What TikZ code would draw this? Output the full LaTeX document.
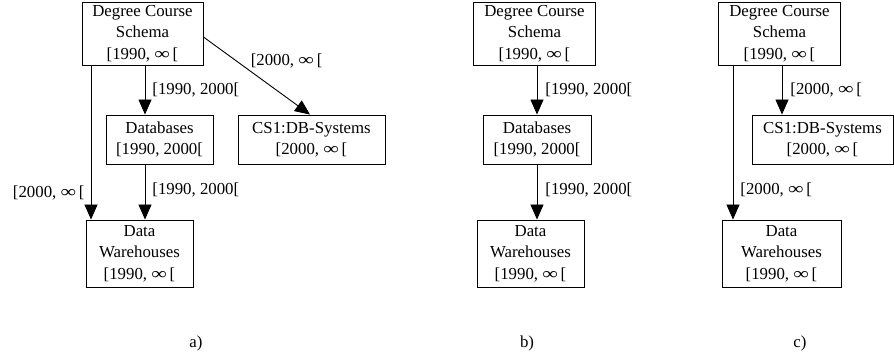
\documentclass[tikz,border=0pt]{standalone}
\usepackage{fontspec}
\usepackage{graphicx}
\setmainfont{Liberation Serif}
\usetikzlibrary{arrows.meta}
\newcommand{\infsym}{\scalebox{1.3}[1]{∞}}
\tikzset{
	box/.style = {draw, line width=0.9pt, align=center, inner sep=0pt, font=\fontsize{16.8}{21.5}\selectfont},
	lbl/.style = {inner sep=0pt, font=\fontsize{16.8}{20}\selectfont},
	arr/.style = {line width=0.9pt, -{Triangle[length=15pt, width=13pt]}}
}
\begin{document}
\begin{tikzpicture}[x=1pt, y=-1pt]
			\useasboundingbox (0,0) rectangle (894,358);
			\node[box, minimum width=121, minimum height=63] (dcsA) at (142.5,33.5) {Degree Course\\Schema\\{}[1990, \infsym\,[};
			\node[box, minimum width=107, minimum height=49] (dbA) at (159.5,139.5) {Databases\\{}[1990, 2000[};
			\node[box, minimum width=147, minimum height=49] (csA) at (311.5,139.5) {CS1:DB-Systems\\{}[2000, \infsym\,[};
			\node[box, minimum width=107, minimum height=67] (dwA) at (139.5,253.5) {Data\\Warehouses\\{}[1990, \infsym\,[};
			\draw[arr] ([xshift=2.5]dcsA.south) -- ([xshift=2.5]dcsA.south |- dbA.north) node[lbl, pos=0.5, right, xshift=7] (labA1) {[1990, 2000[};
			\draw[arr] ([xshift=-14.5]dbA.south) -- ([xshift=-14.5]dbA.south |- dwA.north) node[lbl, pos=0.47, right, xshift=7] (labA2) {[1990, 2000[};
			\draw[arr] ([xshift=-51.5]dcsA.south) -- ([xshift=-51.5]dcsA.south |- dwA.north) node[lbl, pos=0.83, left, xshift=-6] (labA3) {[2000, \infsym\,[};
			\draw[arr] ([yshift=-3.5]dcsA.east) -- ([xshift=-1.5]csA.north) node[lbl, pos=0.44, anchor=south west, yshift=3] (labA4) {[2000, \infsym\,[};
			\node[lbl] (capA) at (196,343) {a)};
			\node[box, minimum width=122, minimum height=63] (dcsB) at (534.5,33.5) {Degree Course\\Schema\\{}[1990, \infsym\,[};
			\node[box, minimum width=108, minimum height=49] (dbB) at (537,139.5) {Databases\\{}[1990, 2000[};
			\node[box, minimum width=107, minimum height=67] (dwB) at (530.5,253.5) {Data\\Warehouses\\{}[1990, \infsym\,[};
			\draw[arr] ([xshift=2.5]dcsB.south) -- ([xshift=2.5]dcsB.south |- dbB.north) node[lbl, pos=0.5, right, xshift=8] (labB1) {[1990, 2000[};
			\draw[arr] (dbB.south) -- (dbB.south |- dwB.north) node[lbl, pos=0.47, right, xshift=8] (labB2) {[1990, 2000[};
			\node[lbl] (capB) at (527,343) {b)};
			\node[box, minimum width=122, minimum height=63] (dcsC) at (779.5,33.5) {Degree Course\\Schema\\{}[1990, \infsym\,[};
			\node[box, minimum width=141, minimum height=49] (csC) at (822.5,139.5) {CS1:DB-Systems\\{}[2000, \infsym\,[};
			\node[box, minimum width=119, minimum height=67] (dwC) at (781.5,253.5) {Data\\Warehouses\\{}[1990, \infsym\,[};
			\draw[arr] ([xshift=2.5]dcsC.south) -- ([xshift=2.5]dcsC.south |- csC.north) node[lbl, pos=0.5, right, xshift=8] (labC1) {[2000, \infsym\,[};
			\draw[arr] ([xshift=-46.5]dcsC.south) -- ([xshift=-46.5]dcsC.south |- dwC.north) node[lbl, pos=0.81, right, xshift=7] (labC2) {[2000, \infsym\,[};
			\node[lbl] (capC) at (800,343) {c)};
\end{tikzpicture}
\end{document}
